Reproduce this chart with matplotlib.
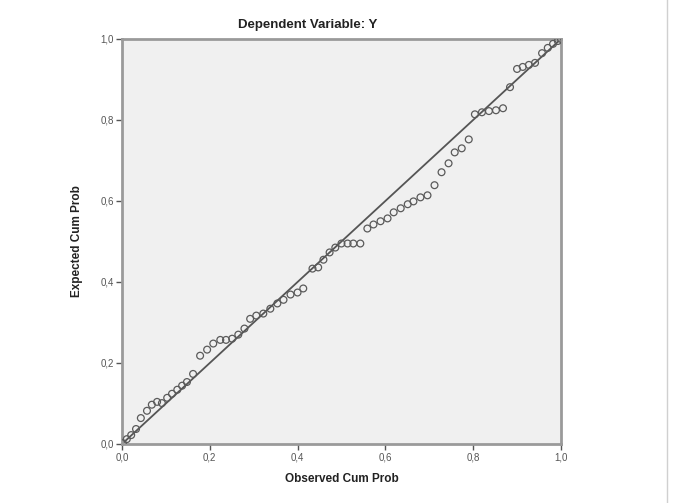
import numpy as np
import matplotlib
matplotlib.use("Agg")
import matplotlib.pyplot as plt
from matplotlib.lines import Line2D
from matplotlib.ticker import FuncFormatter

# P-P plot values
observed = [0.002, 0.011, 0.021, 0.032, 0.043, 0.057, 0.068, 0.080, 0.091, 0.103,
            0.114, 0.126, 0.137, 0.148, 0.162, 0.178, 0.194, 0.208, 0.224, 0.237,
            0.251, 0.265, 0.279, 0.292, 0.306, 0.322, 0.338, 0.354, 0.368, 0.384,
            0.400, 0.413, 0.434, 0.447, 0.459, 0.473, 0.486, 0.500, 0.514, 0.527,
            0.543, 0.559, 0.573, 0.589, 0.605, 0.619, 0.635, 0.651, 0.664, 0.680,
            0.696, 0.712, 0.728, 0.744, 0.758, 0.774, 0.790, 0.804, 0.820, 0.836,
            0.852, 0.868, 0.884, 0.900, 0.913, 0.927, 0.941, 0.957, 0.970, 0.982,
            0.993, 1.000]
expected = [0.002, 0.012, 0.022, 0.037, 0.064, 0.082, 0.097, 0.104, 0.101, 0.114,
            0.124, 0.134, 0.144, 0.153, 0.173, 0.218, 0.233, 0.248, 0.257, 0.257,
            0.260, 0.270, 0.285, 0.309, 0.317, 0.322, 0.334, 0.347, 0.356, 0.369,
            0.374, 0.384, 0.433, 0.436, 0.455, 0.473, 0.485, 0.495, 0.495, 0.495,
            0.495, 0.532, 0.542, 0.550, 0.557, 0.572, 0.582, 0.592, 0.599, 0.609,
            0.614, 0.639, 0.671, 0.693, 0.720, 0.730, 0.752, 0.814, 0.819, 0.822,
            0.824, 0.829, 0.881, 0.926, 0.931, 0.936, 0.941, 0.965, 0.978, 0.988,
            0.995, 1.000]
ticks = [0.0, 0.2, 0.4, 0.6, 0.8, 1.0]

plt.rcParams["font.family"] = ["Liberation Sans", "DejaVu Sans"]

fig = plt.figure(figsize=(6.81, 5.03), dpi=100)
ax = fig.add_axes([0.1791, 0.1173, 0.6446, 0.8052])
ax.set_facecolor("#f0f0f0")

ax.plot([0, 1], [0, 1], color="#555555", linewidth=1.3, zorder=2)
ax.scatter(observed, expected, s=24, facecolors="none", edgecolors="#5a5a5a",
           linewidths=0.9, zorder=3)

ax.set_xlim(0, 1)
ax.set_ylim(0, 1)
ax.set_xticks(ticks)
ax.set_yticks(ticks)
fmt = FuncFormatter(lambda v, p: "{:.1f}".format(v).replace(".", ","))
ax.xaxis.set_major_formatter(fmt)
ax.yaxis.set_major_formatter(fmt)
ax.tick_params(labelsize=7, colors="#555555", length=4, width=1, pad=2)

for axis in ["top", "bottom", "left", "right"]:
    ax.spines[axis].set_linewidth(2)
    ax.spines[axis].set_color("#9a9a9a")

ax.set_xlabel("Observed Cum Prob", fontsize=8.5, fontweight="bold", color="#222222", labelpad=8)
ax.set_ylabel("Expected Cum Prob", fontsize=8.5, fontweight="bold", color="#222222", labelpad=12)
fig.text(308 / 681, 1 - 25 / 503, "Dependent Variable: Y", ha="center", va="center",
         fontsize=9.5, fontweight="bold", color="#222222")

# thin frame line at right edge of the output box
fig.add_artist(Line2D([667 / 681, 667 / 681], [0, 1], color="#d0d0d0", linewidth=1))

fig.savefig("out.png", dpi=100)
